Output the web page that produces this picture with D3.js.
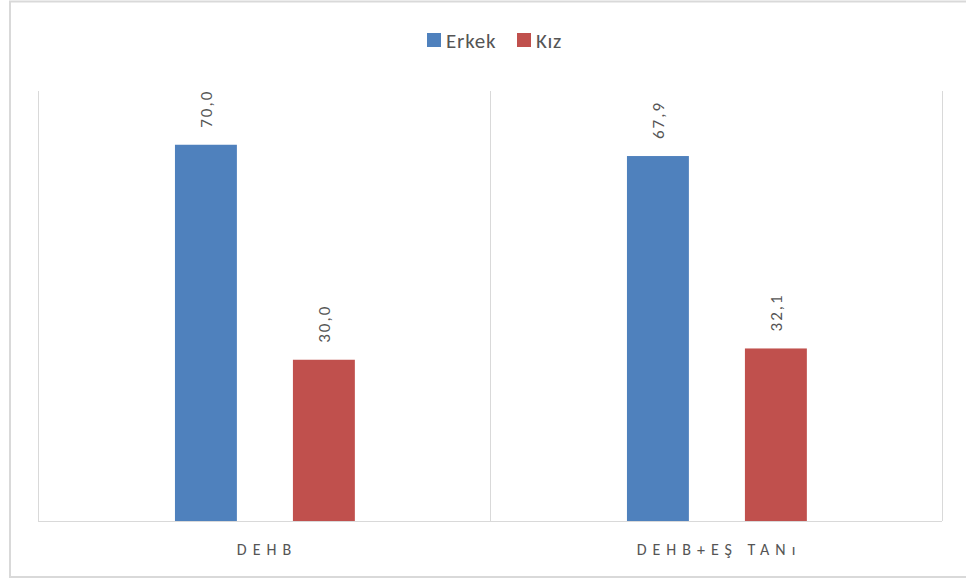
<!DOCTYPE html>
<html>
<head>
<meta charset="utf-8">
<script src="https://cdn.jsdelivr.net/npm/d3@7"></script>
<style>
  body { margin: 0; background: #fff; }
  svg text { font-family: Carlito, Calibri, Lato, "Liberation Sans", sans-serif; fill: #555555; }
</style>
</head>
<body>
<svg id="chart" width="966" height="578"></svg>
<script>
const categories = ['DEHB', 'DEHB+EŞ TANı'];
const seriesNames = ['Erkek', 'Kız'];
const erkekValues = [70.0, 67.9];
const kizValues = [30.0, 32.1];
const seriesColors = ['#4F81BD', '#C0504D'];

const svg = d3.select('#chart');
const margin = { left: 38, right: 24, top: 91, bottom: 57 };
const width = 966, height = 578;

// outer frame
svg.append('rect')
  .attr('x', 10).attr('y', 1.5)
  .attr('width', 970).attr('height', 575.5)
  .attr('fill', 'none')
  .attr('stroke', '#d9d9d9')
  .attr('stroke-width', 2);

const x0 = d3.scaleBand()
  .domain(categories)
  .range([margin.left, width - margin.right])
  .paddingInner(0).paddingOuter(0);

// bars sit between ~30% and ~70% of each category band
const bw = x0.bandwidth();
const x1 = d3.scaleBand()
  .domain(seriesNames)
  .range([bw * 0.303, bw * 0.701])
  .paddingInner(0.475)
  .paddingOuter(0);

const y = d3.scaleLinear()
  .domain([0, 80])
  .range([height - margin.bottom, margin.top]);

// category separators
const sepX = [...categories.map(c => x0(c)), x0.range()[1]];
svg.append('g')
  .selectAll('line')
  .data(sepX)
  .enter()
  .append('line')
  .attr('x1', d => d + 0.5).attr('x2', d => d + 0.5)
  .attr('y1', y(80)).attr('y2', y(0))
  .attr('stroke', '#d9d9d9')
  .attr('stroke-width', 1);

// bars
const data = categories.map((c, i) => ({
  cat: c,
  vals: [{ s: 'Erkek', v: erkekValues[i] }, { s: 'Kız', v: kizValues[i] }]
}));

const groups = svg.append('g')
  .selectAll('g')
  .data(data)
  .enter()
  .append('g')
  .attr('transform', d => `translate(${x0(d.cat)},0)`);

groups.selectAll('rect')
  .data(d => d.vals)
  .enter()
  .append('rect')
  .attr('x', d => x1(d.s))
  .attr('y', d => y(d.v))
  .attr('width', x1.bandwidth())
  .attr('height', d => y(0) - y(d.v))
  .attr('fill', (d, i) => seriesColors[i]);

// value labels, rotated
groups.selectAll('text')
  .data(d => d.vals)
  .enter()
  .append('text')
  .attr('transform', d => `translate(${x1(d.s) + x1.bandwidth() / 2 + 6},${y(d.v) - 17}) rotate(-90)`)
  .attr('text-anchor', 'start')
  .attr('font-size', 17)
  .attr('letter-spacing', 2)
  .text(d => d.v.toFixed(1).replace('.', ','));

// x axis line
svg.append('line')
  .attr('x1', margin.left).attr('x2', width - margin.right)
  .attr('y1', y(0) + 0.5).attr('y2', y(0) + 0.5)
  .attr('stroke', '#d9d9d9');

// category labels
svg.append('g')
  .selectAll('text')
  .data(categories)
  .enter()
  .append('text')
  .attr('x', d => x0(d) + x0.bandwidth() / 2 + 3)
  .attr('y', 555)
  .attr('text-anchor', 'middle')
  .attr('font-size', 16)
  .attr('letter-spacing', 6)
  .text(d => d);

// legend
const legendX = [427, 517];
const legend = svg.append('g')
  .selectAll('g')
  .data(seriesNames)
  .enter()
  .append('g')
  .attr('transform', (d, i) => `translate(${legendX[i]},33)`);
legend.append('rect')
  .attr('width', 14).attr('height', 14)
  .attr('fill', (d, i) => seriesColors[i]);
legend.append('text')
  .attr('x', 19).attr('y', 14.5)
  .attr('font-size', 21)
  .attr('letter-spacing', 0.8)
  .text(d => d);
</script>
</body>
</html>
